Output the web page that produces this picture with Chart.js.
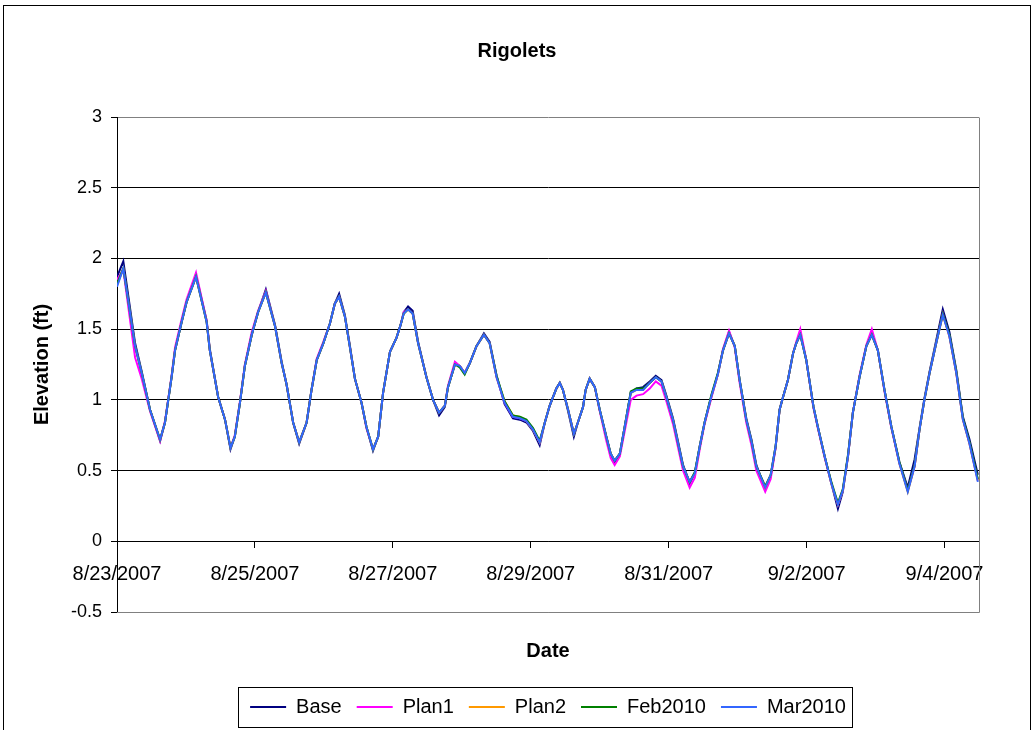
<!DOCTYPE html>
<html>
<head>
<meta charset="utf-8">
<script src="https://cdn.jsdelivr.net/npm/chart.js@4.4.0/dist/chart.umd.min.js"></script>
<style>
    html, body { margin: 0; padding: 0; background: #fff; overflow: hidden; }
    #moldura { position: absolute; left: 3px; top: 5px; width: 1026px; height: 760px; border: 1px solid #000; }
    #caixa { position: absolute; left: 0; top: 0; width: 1034px; height: 730px; }
</style>
</head>
<body>
<div id="moldura"></div>
<div id="caixa"><canvas id="grafico" width="1034" height="730"></canvas></div>
<script>
// Horas desde 8/23/2007 00:00
const horas = [
    0, 2.2, 6.3, 8.6, 11.5, 15.0, 16.7, 19.0, 20.2, 22.5,
    24.2, 27.5, 31.2, 32.3, 35.2, 37.6, 39.5, 41.0, 42.8, 44.5,
    46.9, 49.1, 51.8, 55.0, 57.3, 59.0, 61.3, 63.4, 66.0, 67.7,
    69.5, 71.8, 74.1, 75.8, 77.3, 79.3, 81.0, 82.8, 85.1, 86.8,
    89.1, 90.9, 92.6, 95.0, 97.3, 98.7, 99.8, 101.3, 102.9, 104.8,
    107.7, 110.0, 112.1, 114.1, 115.2, 117.6, 119.3, 121.0, 122.8, 125.1,
    127.7, 129.7, 132.1, 134.9, 137.8, 140.2, 142.5, 144.8, 147.1, 148.9,
    150.6, 152.9, 154.1, 155.2, 157.0, 159.0, 160.4, 162.2, 163.1, 164.5,
    166.3, 168.0, 170.3, 171.8, 173.2, 175.0, 176.7, 178.8, 180.8, 183.1,
    185.4, 187.5, 189.5, 191.2, 193.5, 195.3, 197.0, 199.3, 201.1, 202.8,
    204.5, 206.8, 209.1, 210.9, 213.0, 215.0, 216.7, 219.0, 220.8, 222.5,
    225.6, 227.5, 229.2, 230.6, 231.8, 233.5, 235.3, 236.4, 237.8, 239.9,
    242.4, 243.9, 246.3, 248.6, 250.9, 252.6, 254.4, 256.1, 258.4, 260.8,
    262.7, 264.8, 267.1, 269.5, 272.3, 275.2, 277.6, 279.3, 281.0, 282.8,
    285.1, 287.4, 289.7, 292.1, 294.4, 296.7, 299.6
];

// Elevação (ft) de cada cenário
const base = [
    1.87, 1.98, 1.40, 1.20, 0.93, 0.71, 0.84, 1.16, 1.35, 1.55,
    1.69, 1.88, 1.56, 1.36, 1.02, 0.86, 0.65, 0.74, 0.98, 1.24,
    1.46, 1.62, 1.78, 1.53, 1.27, 1.11, 0.84, 0.69, 0.84, 1.07,
    1.28, 1.40, 1.54, 1.68, 1.75, 1.60, 1.39, 1.15, 0.98, 0.81,
    0.64, 0.74, 1.05, 1.34, 1.44, 1.53, 1.62, 1.66, 1.63, 1.41,
    1.16, 1.00, 0.89, 0.95, 1.09, 1.25, 1.24, 1.19, 1.26, 1.38,
    1.47, 1.41, 1.17, 0.97, 0.87, 0.86, 0.84, 0.78, 0.68, 0.84,
    0.96, 1.08, 1.12, 1.07, 0.92, 0.74, 0.84, 0.95, 1.07, 1.15,
    1.09, 0.93, 0.74, 0.62, 0.56, 0.62, 0.81, 1.05, 1.08, 1.09,
    1.13, 1.17, 1.14, 1.03, 0.87, 0.70, 0.54, 0.41, 0.48, 0.67,
    0.84, 1.02, 1.18, 1.35, 1.48, 1.38, 1.14, 0.87, 0.72, 0.54,
    0.37, 0.46, 0.66, 0.93, 1.02, 1.14, 1.33, 1.40, 1.47, 1.28,
    0.95, 0.81, 0.60, 0.41, 0.23, 0.35, 0.60, 0.91, 1.16, 1.38,
    1.47, 1.35, 1.07, 0.81, 0.56, 0.38, 0.58, 0.80, 1.01, 1.20,
    1.42, 1.64, 1.48, 1.21, 0.88, 0.72, 0.47
];

const plan1 = [
    1.85, 1.92, 1.30, 1.15, 0.92, 0.71, 0.85, 1.17, 1.37, 1.57,
    1.71, 1.90, 1.56, 1.35, 1.02, 0.86, 0.66, 0.75, 0.99, 1.25,
    1.48, 1.63, 1.77, 1.52, 1.26, 1.11, 0.84, 0.70, 0.84, 1.07,
    1.29, 1.41, 1.54, 1.68, 1.73, 1.59, 1.38, 1.15, 0.98, 0.80,
    0.65, 0.74, 1.05, 1.34, 1.44, 1.53, 1.62, 1.64, 1.61, 1.40,
    1.16, 1.00, 0.91, 0.96, 1.10, 1.27, 1.24, 1.19, 1.26, 1.38,
    1.46, 1.40, 1.16, 0.98, 0.88, 0.87, 0.85, 0.79, 0.70, 0.84,
    0.96, 1.08, 1.12, 1.07, 0.93, 0.76, 0.84, 0.95, 1.07, 1.15,
    1.09, 0.92, 0.71, 0.59, 0.54, 0.60, 0.78, 1.00, 1.03, 1.04,
    1.08, 1.13, 1.10, 0.99, 0.83, 0.66, 0.50, 0.38, 0.45, 0.65,
    0.83, 1.01, 1.18, 1.36, 1.49, 1.37, 1.12, 0.84, 0.68, 0.50,
    0.35, 0.44, 0.66, 0.93, 1.02, 1.14, 1.33, 1.41, 1.50, 1.28,
    0.94, 0.80, 0.59, 0.41, 0.26, 0.36, 0.60, 0.91, 1.17, 1.39,
    1.50, 1.35, 1.06, 0.80, 0.55, 0.36, 0.53, 0.79, 1.00, 1.19,
    1.40, 1.61, 1.45, 1.19, 0.86, 0.69, 0.43
];

const plan2 = [
    1.81, 1.93, 1.38, 1.19, 0.93, 0.72, 0.84, 1.16, 1.35, 1.55,
    1.69, 1.87, 1.55, 1.35, 1.02, 0.86, 0.66, 0.74, 0.98, 1.24,
    1.46, 1.62, 1.76, 1.52, 1.26, 1.11, 0.84, 0.70, 0.84, 1.07,
    1.28, 1.40, 1.54, 1.68, 1.73, 1.59, 1.38, 1.15, 0.98, 0.81,
    0.65, 0.74, 1.05, 1.34, 1.44, 1.53, 1.61, 1.64, 1.61, 1.40,
    1.16, 1.00, 0.91, 0.96, 1.09, 1.25, 1.24, 1.19, 1.26, 1.38,
    1.46, 1.40, 1.16, 0.99, 0.89, 0.88, 0.85, 0.79, 0.70, 0.84,
    0.96, 1.08, 1.12, 1.07, 0.93, 0.76, 0.84, 0.95, 1.07, 1.15,
    1.09, 0.93, 0.74, 0.62, 0.57, 0.62, 0.81, 1.05, 1.07, 1.07,
    1.12, 1.16, 1.13, 1.02, 0.86, 0.69, 0.53, 0.42, 0.48, 0.67,
    0.84, 1.02, 1.18, 1.35, 1.47, 1.38, 1.14, 0.86, 0.71, 0.53,
    0.38, 0.47, 0.67, 0.93, 1.02, 1.14, 1.33, 1.40, 1.46, 1.28,
    0.95, 0.81, 0.60, 0.41, 0.26, 0.36, 0.60, 0.91, 1.16, 1.38,
    1.46, 1.35, 1.07, 0.81, 0.55, 0.35, 0.53, 0.79, 1.00, 1.19,
    1.40, 1.60, 1.45, 1.19, 0.86, 0.69, 0.43
];

const feb2010 = [
    1.82, 1.93, 1.38, 1.19, 0.93, 0.72, 0.84, 1.16, 1.35, 1.55,
    1.69, 1.87, 1.55, 1.35, 1.02, 0.86, 0.66, 0.74, 0.98, 1.24,
    1.46, 1.62, 1.76, 1.52, 1.26, 1.11, 0.84, 0.70, 0.84, 1.07,
    1.28, 1.40, 1.54, 1.68, 1.73, 1.59, 1.38, 1.15, 0.98, 0.81,
    0.65, 0.74, 1.05, 1.34, 1.44, 1.53, 1.61, 1.64, 1.61, 1.40,
    1.16, 1.00, 0.91, 0.96, 1.09, 1.25, 1.23, 1.18, 1.26, 1.38,
    1.46, 1.40, 1.17, 0.99, 0.89, 0.88, 0.86, 0.80, 0.71, 0.84,
    0.96, 1.08, 1.12, 1.07, 0.93, 0.76, 0.84, 0.95, 1.07, 1.15,
    1.09, 0.93, 0.74, 0.62, 0.57, 0.62, 0.81, 1.06, 1.08, 1.08,
    1.12, 1.16, 1.13, 1.02, 0.86, 0.69, 0.53, 0.42, 0.49, 0.67,
    0.84, 1.03, 1.19, 1.35, 1.47, 1.38, 1.14, 0.86, 0.71, 0.53,
    0.39, 0.47, 0.67, 0.93, 1.02, 1.14, 1.33, 1.40, 1.46, 1.28,
    0.95, 0.81, 0.60, 0.42, 0.27, 0.37, 0.61, 0.91, 1.16, 1.38,
    1.46, 1.35, 1.07, 0.81, 0.56, 0.36, 0.54, 0.79, 1.00, 1.19,
    1.40, 1.61, 1.46, 1.20, 0.87, 0.70, 0.44
];

const mar2010 = [
    1.80, 1.93, 1.38, 1.19, 0.93, 0.72, 0.84, 1.16, 1.35, 1.55,
    1.69, 1.87, 1.55, 1.35, 1.02, 0.86, 0.66, 0.74, 0.98, 1.24,
    1.46, 1.62, 1.76, 1.52, 1.26, 1.11, 0.84, 0.70, 0.84, 1.07,
    1.28, 1.40, 1.54, 1.68, 1.73, 1.59, 1.38, 1.15, 0.98, 0.81,
    0.65, 0.74, 1.05, 1.34, 1.44, 1.53, 1.61, 1.64, 1.61, 1.40,
    1.16, 1.00, 0.91, 0.96, 1.09, 1.25, 1.24, 1.19, 1.26, 1.38,
    1.46, 1.40, 1.16, 0.98, 0.88, 0.87, 0.85, 0.79, 0.70, 0.84,
    0.96, 1.08, 1.12, 1.07, 0.93, 0.76, 0.84, 0.95, 1.07, 1.15,
    1.09, 0.93, 0.74, 0.62, 0.57, 0.62, 0.81, 1.05, 1.07, 1.07,
    1.12, 1.16, 1.13, 1.02, 0.86, 0.69, 0.53, 0.42, 0.48, 0.67,
    0.84, 1.02, 1.18, 1.35, 1.47, 1.38, 1.14, 0.86, 0.71, 0.53,
    0.38, 0.47, 0.67, 0.93, 1.02, 1.14, 1.33, 1.40, 1.46, 1.28,
    0.95, 0.81, 0.60, 0.41, 0.26, 0.36, 0.60, 0.91, 1.16, 1.38,
    1.46, 1.35, 1.07, 0.81, 0.55, 0.35, 0.53, 0.79, 1.00, 1.19,
    1.40, 1.60, 1.45, 1.19, 0.86, 0.69, 0.42
];

const nomes = ['Base', 'Plan1', 'Plan2', 'Feb2010', 'Mar2010'];
const cores = ['#000080', '#FF00FF', '#FF9900', '#008000', '#3366FF'];
const series = [base, plan1, plan2, feb2010, mar2010];

// Marcas do eixo X (a cada 2 dias) e seus rótulos
const ticksHoras = [0, 48, 96, 144, 192, 240, 288];
const rotulosDatas = ['8/23/2007', '8/25/2007', '8/27/2007', '8/29/2007', '8/31/2007', '9/2/2007', '9/4/2007'];

const fonte = "'Liberation Sans', Arial, sans-serif";

// Borda cinza da área de plotagem e caixa da legenda
const molduraPlugin = {
    id: 'molduraPlugin',
    beforeDatasetsDraw(chart) {
        const { ctx, chartArea: a } = chart;
        const r = Math.round(a.right) + 0.5;
        const b = Math.round(a.bottom) + 0.5;
        ctx.save();
        ctx.strokeStyle = '#808080';
        ctx.lineWidth = 1;
        ctx.beginPath();
        ctx.moveTo(Math.round(a.left), b);
        ctx.lineTo(r, b);
        ctx.lineTo(r, Math.round(a.top) + 0.5);
        ctx.stroke();
        ctx.restore();
    },
    afterDraw(chart) {
        const hb = chart.legend.legendHitBoxes;
        if (!hb || !hb.length) return;
        const ultimo = hb[hb.length - 1];
        const x0 = Math.round(hb[0].left - 12) + 0.5;
        const x1 = Math.round(ultimo.left + ultimo.width + 6) + 0.5;
        const y0 = Math.round(hb[0].top - 10) + 0.5;
        const y1 = Math.round(hb[0].top + hb[0].height + 10) + 0.5;
        const ctx = chart.ctx;
        ctx.save();
        ctx.strokeStyle = '#000';
        ctx.lineWidth = 1;
        ctx.strokeRect(x0, y0, x1 - x0, y1 - y0);
        ctx.restore();
    }
};

const ctx = document.getElementById('grafico').getContext('2d');
const grafico = new Chart(ctx, {
    type: 'line',
    data: {
        datasets: nomes.map((nome, i) => ({
            label: nome,
            data: horas.map((h, j) => ({ x: h, y: series[i][j] })),
            borderColor: cores[i],
            backgroundColor: cores[i],
            borderWidth: 2,
            pointRadius: 0,
            tension: 0,
            order: nomes.length - i
        }))
    },
    options: {
        responsive: false,
        animation: false,
        devicePixelRatio: 1,
        layout: { padding: { left: 0, right: 0, top: 0, bottom: 3 } },
        plugins: {
            title: {
                display: true,
                text: 'Rigolets',
                color: '#000',
                font: { family: fonte, size: 20, weight: 'bold' },
                padding: { top: 39, bottom: 54 }
            },
            legend: {
                position: 'bottom',
                fullSize: false,
                labels: {
                    color: '#000',
                    font: { family: fonte, size: 20 },
                    usePointStyle: true,
                    pointStyle: 'line',
                    pointStyleWidth: 36,
                    padding: 15,
                    sort: (a, b) => a.datasetIndex - b.datasetIndex
                }
            },
            tooltip: { enabled: false }
        },
        scales: {
            x: {
                type: 'linear',
                position: { y: 0 },
                min: 0,
                max: 300,
                afterBuildTicks: (s) => { s.ticks = ticksHoras.map(v => ({ value: v })); },
                grid: { drawOnChartArea: false, drawTicks: true, tickLength: 6, tickColor: '#000' },
                border: { display: true, color: '#000', width: 1 },
                ticks: {
                    autoSkip: false,
                    maxRotation: 0,
                    color: '#000',
                    padding: 15,
                    font: { family: fonte, size: 20 },
                    callback: (v) => rotulosDatas[ticksHoras.indexOf(v)]
                }
            },
            xTitulo: {
                type: 'linear',
                axis: 'x',
                position: 'bottom',
                grid: { display: false, drawTicks: false },
                border: { display: false },
                ticks: { display: false },
                title: {
                    display: true,
                    text: 'Date',
                    color: '#000',
                    font: { family: fonte, size: 20, weight: 'bold' },
                    padding: { top: 27, bottom: 19 }
                }
            },
            y: {
                min: -0.5,
                max: 3,
                afterFit: (s) => { s.width = 117; },
                grid: {
                    color: (c) => (c.tick.value === 3 || c.tick.value === -0.5) ? '#808080' : '#000',
                    drawTicks: true,
                    tickLength: 6,
                    tickColor: '#000'
                },
                border: { display: true, color: '#000', width: 1 },
                ticks: {
                    stepSize: 0.5,
                    color: '#000',
                    padding: 9,
                    font: { family: fonte, size: 18 },
                    callback: (v) => String(v)
                },
                title: {
                    display: true,
                    text: 'Elevation (ft)',
                    color: '#000',
                    font: { family: fonte, size: 20, weight: 'bold' },
                    padding: { top: 30, bottom: 0 }
                }
            },
            yDireita: {
                type: 'linear',
                axis: 'y',
                position: 'right',
                grid: { display: false, drawTicks: false },
                border: { display: false },
                ticks: { display: false },
                afterFit: (s) => { s.width = 55; }
            }
        }
    },
    plugins: [molduraPlugin]
});
</script>
</body>
</html>
